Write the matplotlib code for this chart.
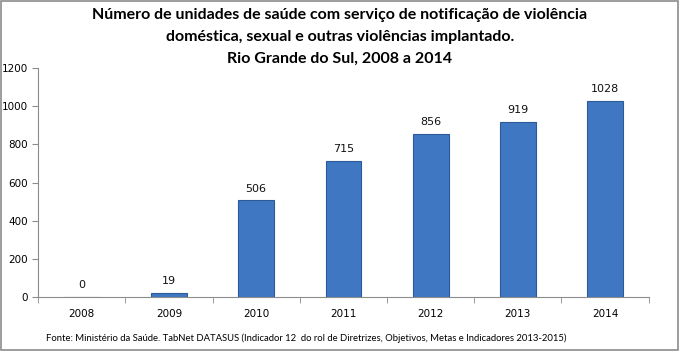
import matplotlib.pyplot as plt
from matplotlib.patches import Rectangle

years = ["2008", "2009", "2010", "2011", "2012", "2013", "2014"]
units = [0, 19, 506, 715, 856, 919, 1028]
yticks = [0, 200, 400, 600, 800, 1000, 1200]

TITLE = ("Número de unidades de saúde com serviço de notificação de violência\n"
         "doméstica, sexual e outras violências implantado.\n"
         "Rio Grande do Sul, 2008 a 2014")
SOURCE = ("Fonte: Ministério da Saúde. TabNet DATASUS (Indicador 12  do rol de Diretrizes, "
          "Objetivos, Metas e Indicadores 2013-2015)")

BAR = "#3F77C2"
EDGE = "#2B5A98"
AXIS = "#8C8C8C"

fig = plt.figure(figsize=(6.8, 3.51), dpi=100)
ax = fig.add_axes([0.056, 0.154, 0.898, 0.652])

x = list(range(len(years)))
ax.bar(x, units, width=0.41, color=BAR, edgecolor=EDGE, linewidth=0.8, zorder=2)
for xi, v in zip(x, units):
    ax.annotate(str(v), (xi, v), xytext=(0, 5), textcoords="offset points",
                ha="center", va="bottom", fontsize=8, family="DejaVu Sans", color="#111111")

ax.set_xlim(-0.5, len(years) - 0.5)
ax.set_ylim(0, 1200)
ax.set_yticks(yticks)
ax.set_yticklabels([str(t) for t in yticks], fontsize=7.5)
ax.set_xticks(x)
ax.set_xticklabels(years, fontsize=7.5)
ax.set_xticks([i - 0.5 for i in range(len(years) + 1)], minor=True)
ax.tick_params(axis="x", which="major", length=0, pad=9)
ax.tick_params(axis="x", which="minor", length=4, color=AXIS, direction="out")
ax.tick_params(axis="y", length=4, color=AXIS, pad=3)

for side in ("top", "right"):
    ax.spines[side].set_visible(False)
for side in ("left", "bottom"):
    ax.spines[side].set_color(AXIS)
    ax.spines[side].set_linewidth(0.8)

fig.text(0.5, 0.978, TITLE, ha="center", va="top", fontsize=11.5,
         fontweight="bold", family="Lato", linespacing=1.75)
fig.text(0.068, 0.037, SOURCE, ha="left", va="center", fontsize=6.8, family="Lato")

# moldura cinza em volta da figura
fig.patches.append(Rectangle((0.002, 0.003), 0.995, 0.993, transform=fig.transFigure,
                             fill=False, edgecolor="#8C8C8C", linewidth=1.2))

fig.savefig("out.png", dpi=100)
